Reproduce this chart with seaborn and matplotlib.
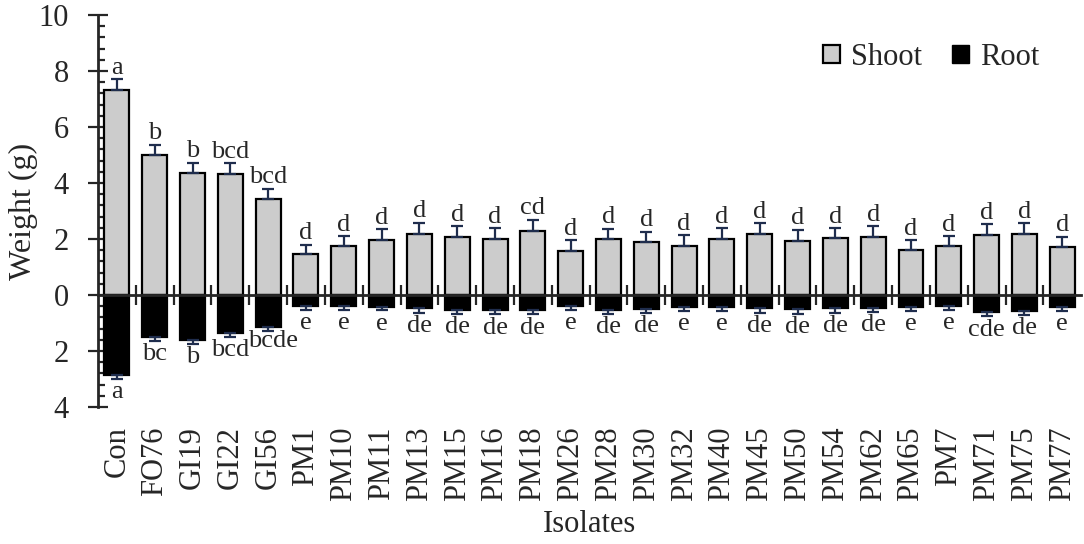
import numpy as np
import pandas as pd
import matplotlib
matplotlib.use("Agg")
import matplotlib.pyplot as plt
import seaborn as sns
from matplotlib.patches import Patch
from matplotlib.ticker import MultipleLocator, FixedLocator

# values
isolates = ['Con', 'FO76', 'GI19', 'GI22', 'GI56', 'PM1', 'PM10', 'PM11', 'PM13',
            'PM15', 'PM16', 'PM18', 'PM26', 'PM28', 'PM30', 'PM32', 'PM40', 'PM45',
            'PM50', 'PM54', 'PM62', 'PM65', 'PM7', 'PM71', 'PM75', 'PM77']
shoot = [7.32, 5.00, 4.36, 4.32, 3.42, 1.45, 1.75, 1.96, 2.18, 2.07, 2.00, 2.29, 1.57,
         2.00, 1.90, 1.75, 2.00, 2.18, 1.93, 2.02, 2.07, 1.62, 1.74, 2.13, 2.18, 1.71]
shoot_err = [0.38, 0.36, 0.36, 0.38, 0.37, 0.35, 0.35, 0.38, 0.39, 0.39, 0.39, 0.39, 0.38,
             0.36, 0.36, 0.38, 0.39, 0.38, 0.39, 0.37, 0.39, 0.34, 0.36, 0.39, 0.38, 0.37]
root = [2.86, 1.50, 1.61, 1.36, 1.14, 0.39, 0.39, 0.42, 0.46, 0.52, 0.54, 0.54, 0.39,
        0.54, 0.49, 0.43, 0.43, 0.46, 0.51, 0.46, 0.46, 0.43, 0.39, 0.61, 0.57, 0.42]
root_err = [0.14, 0.14, 0.14, 0.14, 0.14, 0.15, 0.14, 0.13, 0.18, 0.15, 0.15, 0.15, 0.15,
            0.14, 0.16, 0.14, 0.14, 0.18, 0.16, 0.18, 0.15, 0.13, 0.13, 0.15, 0.14, 0.14]
shoot_letters = ['a', 'b', 'b', 'bcd', 'bcd', 'd', 'd', 'd', 'd', 'd', 'd', 'cd', 'd',
                 'd', 'd', 'd', 'd', 'd', 'd', 'd', 'd', 'd', 'd', 'd', 'd', 'd']
root_letters = ['a', 'bc', 'b', 'bcd', 'bcde', 'e', 'e', 'e', 'de', 'de', 'de', 'de', 'e',
                'de', 'de', 'e', 'e', 'de', 'de', 'de', 'de', 'e', 'e', 'cde', 'de', 'e']

sns.set_style('ticks')
plt.rcParams['font.family'] = ['Liberation Serif', 'DejaVu Serif']

df = pd.DataFrame({
    'Isolate': isolates * 2,
    'Weight': list(shoot) + [-v for v in root],
    'Part': ['Shoot'] * len(isolates) + ['Root'] * len(isolates),
})
colors = {'Shoot': '#cccccc', 'Root': 'black'}

fig = plt.figure(figsize=(10.84, 5.44), dpi=100)
ax = fig.add_axes([0.0904, 0.2518, 0.907, 0.7206])

sns.barplot(data=df, x='Isolate', y='Weight', hue='Part', order=isolates,
            palette=colors, dodge=False, width=0.66, edgecolor='black',
            linewidth=1.6, errorbar=None, legend=False, ax=ax)

x = np.arange(len(isolates))
n = len(isolates)
err_color = '#1f2d4d'
ax.errorbar(x, shoot, yerr=[np.zeros(n), shoot_err], fmt='none', ecolor=err_color,
            elinewidth=1.6, capsize=4.5, capthick=1.6, zorder=1)
ax.errorbar(x, -np.array(root), yerr=[root_err, np.zeros(n)], fmt='none', ecolor=err_color,
            elinewidth=1.6, capsize=4.5, capthick=1.6, zorder=3)

# significance letters
for i in range(n):
    ax.text(x[i], shoot[i] + shoot_err[i] + 0.02, shoot_letters[i], ha='center',
            va='bottom', fontsize=19)
    # the long label of GI56 sits a little higher and to the right, as in the source
    dx, dy = (0.14, 0.1) if root_letters[i] == 'bcde' else (0, 0)
    ax.text(x[i] + dx, -(root[i] + root_err[i]) - 0.08 + dy, root_letters[i],
            ha='center', va='top', fontsize=19)

ax.set_xlim(-0.5, n - 0.5)
ax.set_ylim(-4, 10)
ax.spines['top'].set_visible(False)
ax.spines['right'].set_visible(False)
ax.spines['bottom'].set_position(('data', 0))
ax.spines['bottom'].set_linewidth(2)
ax.spines['left'].set_linewidth(2)
ax.spines['bottom'].set_zorder(5)

ax.set_yticks(np.arange(-4, 11, 2))
ax.set_yticklabels([str(abs(v)) for v in range(-4, 11, 2)])
ax.yaxis.set_minor_locator(MultipleLocator(0.4))
ax.tick_params(axis='y', which='major', direction='inout', length=14, width=1.6,
               labelsize=22, pad=14)
ax.tick_params(axis='y', which='minor', direction='in', length=5, width=1.6)

ax.xaxis.set_major_locator(FixedLocator(np.arange(0.5, n - 1, 1)))
ax.xaxis.set_minor_locator(FixedLocator(x))
ax.set_xticklabels([])
ax.tick_params(axis='x', which='major', direction='inout', length=14, width=1.6)
ax.tick_params(axis='x', which='minor', direction='in', length=5, width=1.6)
ax.set_xlabel('')
ax.set_ylabel('Weight (g)', fontsize=23, labelpad=0)

# isolate names below the plot
sec = ax.secondary_xaxis(0)
sec.set_xticks(x, labels=isolates)
sec.tick_params(length=0, pad=14, labelsize=22, labelrotation=90)
sec.spines['bottom'].set_visible(False)

fig.text(0.544, 0.035, 'Isolates', ha='center', va='center', fontsize=22)

handles = [Patch(facecolor='#cccccc', edgecolor='black', linewidth=1.6, label='Shoot'),
           Patch(facecolor='black', edgecolor='black', label='Root')]
ax.legend(handles=handles, loc='upper right', ncol=2, frameon=False, fontsize=22,
          handlelength=0.55, handleheight=0.55, handletextpad=0.35, columnspacing=1.0,
          bbox_to_anchor=(0.985, 1.0))

fig.savefig('out.png', dpi=100)
